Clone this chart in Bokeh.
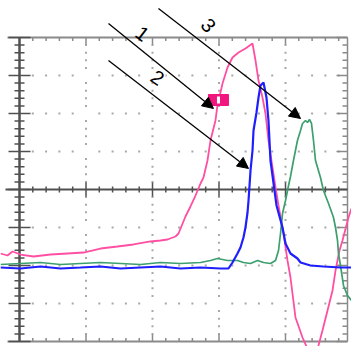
import numpy as np
from bokeh.plotting import figure
from bokeh.models import Range1d, Arrow, NormalHead, Label
from bokeh.embed import file_html
from bokeh.resources import INLINE

# ---- data (in screen divisions: x = time div, y = volts div) ----
pink_x = [-0.286, -0.180, -0.105, 0.015, 0.211, 0.466, 0.722, 0.962, 1.218, 1.474, 1.714, 1.970,
          2.120, 2.226, 2.346, 2.391, 2.496, 2.571, 2.647, 2.722, 2.767, 2.827, 2.872, 2.947, 2.977,
          3.053, 3.128, 3.203, 3.293, 3.398, 3.504, 3.549, 3.594, 3.654, 3.699, 3.744, 3.850, 3.895,
          3.970, 4.030, 4.075, 4.150, 4.256, 4.316, 4.391, 4.466, 4.496, 4.556, 4.632, 4.707, 4.752,
          4.812, 4.857, 4.947, 4.992]
pink_y = [-1.684, -1.737, -1.632, -1.711, -1.763, -1.711, -1.684, -1.658, -1.553, -1.500, -1.447, -1.368,
          -1.342, -1.316, -1.237, -1.158, -0.711, -0.447, -0.158, 0.158, 0.316, 0.763, 1.289, 1.816, 2.211,
          2.789, 3.211, 3.474, 3.605, 3.711, 3.842, 3.395, 2.868, 2.421, 2.000, 1.289, 0.053, -0.421,
          -1.158, -1.868, -2.316, -3.368, -3.895, -4.132, -4.553, -4.289, -4.105, -3.711, -3.184, -2.658, -2.132,
          -1.605, -1.342, -0.737, -0.500]

blue_x = [-0.286, 0.015, 0.316, 0.617, 0.917, 1.218, 1.519, 1.820, 2.120, 2.421, 2.722, 3.023, 3.143,
          3.203, 3.278, 3.323, 3.368, 3.398, 3.429, 3.444, 3.474, 3.504, 3.519, 3.564, 3.594, 3.624,
          3.669, 3.714, 3.744, 3.774, 3.865, 3.955, 4.000, 4.075, 4.180, 4.226, 4.376, 4.571, 4.827, 4.992]
blue_y = [-2.053, -2.079, -2.026, -2.079, -2.053, -2.026, -2.079, -2.053, -2.026, -2.079, -2.053, -2.079, -2.079,
          -1.921, -1.684, -1.526, -1.263, -1.000, -0.605, -0.289, 0.500, 1.026, 1.553, 2.026, 2.421, 2.737,
          2.816, 2.421, 1.816, 0.763, -0.421, -1.000, -1.421, -1.684, -1.816, -1.921, -2.000, -2.026, -2.053, -2.053]

green_x = [-0.286, 0.015, 0.316, 0.617, 0.917, 1.218, 1.519, 1.820, 2.120, 2.421, 2.722, 2.872, 2.977,
           3.053, 3.128, 3.278, 3.368, 3.474, 3.579, 3.669, 3.774, 3.850, 3.895, 3.925, 3.955, 4.000,
           4.030, 4.075, 4.120, 4.180, 4.226, 4.256, 4.301, 4.331, 4.361, 4.391, 4.421, 4.451, 4.526,
           4.571, 4.647, 4.722, 4.752, 4.782, 4.797, 4.827, 4.872, 4.932, 4.992]
green_y = [-1.974, -1.947, -1.921, -1.974, -1.947, -1.921, -1.947, -1.974, -1.921, -1.947, -1.921, -1.868, -1.816,
           -1.842, -1.868, -1.868, -1.921, -1.947, -1.868, -1.921, -1.947, -1.868, -1.605, -1.158, -0.632, -0.289,
           -0.026, 0.342, 0.763, 1.289, 1.553, 1.737, 1.816, 1.763, 1.842, 1.737, 1.289, 0.763, 0.316,
           -0.026, -0.368, -0.737, -1.000, -1.342, -1.684, -2.000, -2.526, -2.789, -2.921]

# annotation arrows: (x_start, y_start, x_end, y_end)
arrow_names = ["1", "2", "3"]
arrow_start_x = [1.338, 1.338, 2.090]
arrow_start_y = [4.368, 3.395, 4.763]
arrow_end_x = [2.917, 3.444, 4.226]
arrow_end_y = [2.132, 0.553, 1.868]
label_x = [1.850, 2.075, 2.842]
label_y = [4.105, 2.947, 4.320]
label_angle = [-0.65, -0.6, -0.85]

marker_x = [2.992]
marker_y = [2.355]

PX_X = 66.5   # pixels per x division
PX_Y = 38.0   # pixels per y division

p = figure(width=351, height=346, output_backend="svg", toolbar_location=None,
           x_range=Range1d(-19 / PX_X, (351 - 19) / PX_X),
           y_range=Range1d((189 - 346) / PX_Y, 189 / PX_Y),
           x_axis_location=None, y_axis_location=None, min_border=0)
p.outline_line_color = None
p.grid.visible = False
p.background_fill_color = "white"

left_edge = -12 / PX_X
right_edge = (347 - 19) / PX_X
top, bottom = 4.0, -4.0

# dotted grid
minor_x = np.arange(0, 5, 0.2)
minor_x = minor_x[minor_x <= right_edge - 0.05]
minor_y = np.arange(-4, 4.001, 0.2)
gx, gy = [], []
for v in [-3, -2, -1, 1, 2, 3]:
    for d in minor_x:
        if abs(d - round(d)) > 1e-6:
            gx.append(d); gy.append(v)
for d in [1, 2, 3, 4]:
    for v in minor_y:
        if abs(v - round(v)) > 1e-6 and abs(v) < 3.99:
            gx.append(d); gy.append(v)
p.scatter(gx, gy, marker="square", size=2, fill_color="#a8a8a8", line_color=None)

# frame: top, bottom, right
p.line([left_edge, right_edge], [top, top], line_color="#8a8a8a", line_width=2)
p.line([left_edge, right_edge], [bottom, bottom], line_color="#8a8a8a", line_width=2)
p.line([right_edge, right_edge], [bottom, top], line_color="#8a8a8a", line_width=1.5)

tx0, tx1, ty0, ty1 = [], [], [], []
for d in minor_x:
    if d < 0.05:
        continue
    major = abs(d - round(d)) < 1e-6
    L = (7 if major else 3.5) / PX_Y
    tx0 += [d, d]; tx1 += [d, d]
    ty0 += [top, bottom]; ty1 += [top - L, bottom + L]
for v in minor_y:
    major = abs(v - round(v)) < 1e-6
    L = (11 if major else 5) / PX_X
    tx0.append(right_edge); tx1.append(right_edge - L)
    ty0.append(v); ty1.append(v)
p.segment(tx0, ty0, tx1, ty1, line_color="#8a8a8a", line_width=1.5)

# centre axes
p.line([0, 0], [bottom, top], line_color="#505050", line_width=2.5)
p.line([-14 / PX_X, right_edge], [0, 0], line_color="#505050", line_width=2)
cx0, cx1, cy0, cy1 = [], [], [], []
for v in minor_y:
    major = abs(v - round(v)) < 1e-6
    L = (11 if major else 5) / PX_X
    cx0.append(-L); cx1.append(L); cy0.append(v); cy1.append(v)
for d in minor_x:
    if d < 0.05:
        continue
    major = abs(d - round(d)) < 1e-6
    L = (7 if major else 3) / PX_Y
    cx0.append(d); cx1.append(d); cy0.append(-L); cy1.append(L)
p.segment(cx0, cy0, cx1, cy1, line_color="#505050", line_width=1.5)

# traces
p.line(pink_x, pink_y, line_color="#ff4fa3", line_width=1.8)
p.line(green_x, green_y, line_color="#3c9f6e", line_width=1.7)
p.line(blue_x, blue_y, line_color="#1e1eff", line_width=2.2)

# channel marker
p.rect(marker_x, marker_y, width=20, height=11, width_units="screen", height_units="screen",
       fill_color="#f0157f", line_color="#f0157f")
p.rect(marker_x, marker_y, width=3, height=7, width_units="screen", height_units="screen",
       fill_color="white", line_color=None)

# arrows and labels
for i in range(3):
    p.add_layout(Arrow(x_start=arrow_start_x[i], y_start=arrow_start_y[i],
                       x_end=arrow_end_x[i], y_end=arrow_end_y[i],
                       line_color="black", line_width=1.3,
                       end=NormalHead(size=11, fill_color="black", line_color="black")))
for i in range(3):
    p.add_layout(Label(x=label_x[i], y=label_y[i], text=arrow_names[i], angle=label_angle[i],
                       text_align="center", text_baseline="middle",
                       text_font="Liberation Sans", text_font_size="20px", text_color="black",
                       background_fill_color="white" if i == 1 else None))

open("out.html", "w").write(file_html(p, INLINE))
